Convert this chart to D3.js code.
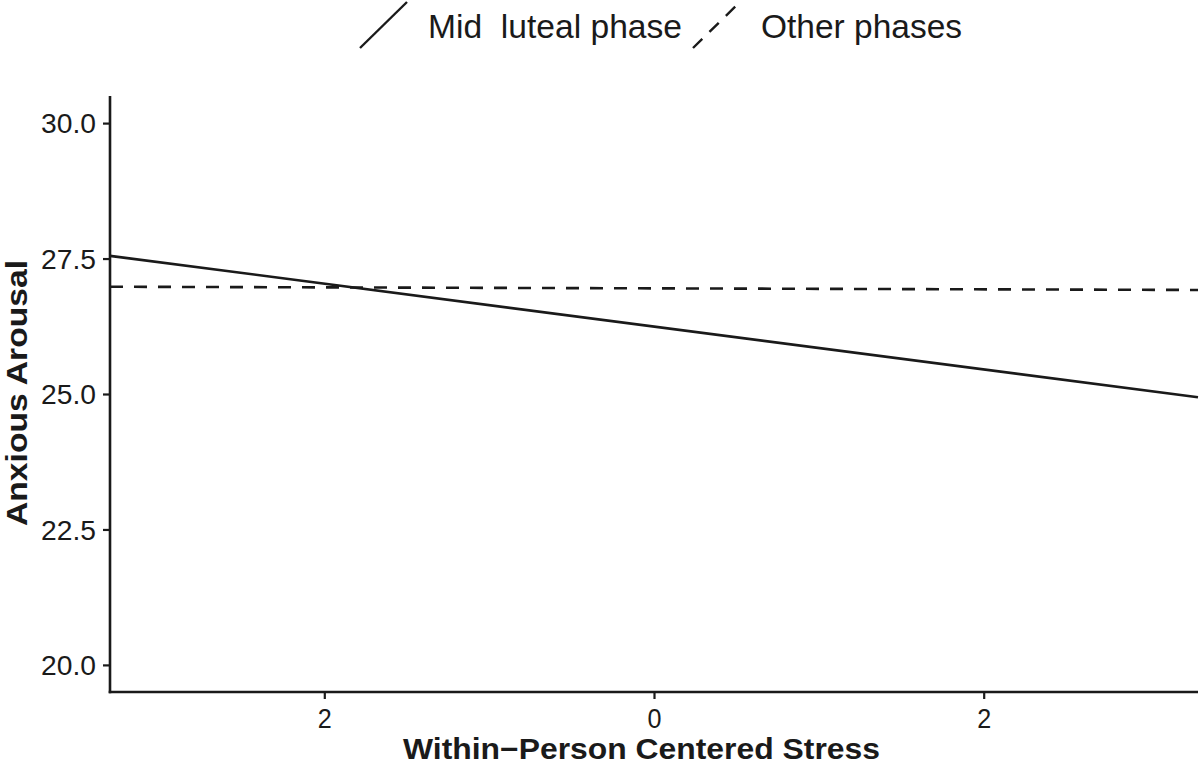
<!DOCTYPE html>
<html>
<head>
<meta charset="utf-8">
<script src="https://cdn.jsdelivr.net/npm/d3@7"></script>
<style>
  html, body { margin: 0; padding: 0; background: #fff; }
  svg { display: block; }
  text { font-family: "Liberation Sans", Arial, Helvetica, sans-serif; fill: #1a1a1a; }
</style>
</head>
<body>
<svg id="chart" width="1200" height="767"></svg>
<script>
// ---- data ----
const xDomain = [-3.3, 3.3];
const yDomain = [19.5, 30.5];
const xTickValues = [-2, 0, 2];
const xTickLabels = ["2", "0", "2"];
const yTickValues = [20, 22.5, 25, 27.5, 30];
const yTickLabels = ["20.0", "22.5", "25.0", "27.5", "30.0"];
const seriesNames = ["Mid  luteal phase", "Other phases"];
const stressX = [-3.3, 3.3];
const midLuteal = [27.55, 24.94];
const otherPhases = [26.98, 26.92];
const xTitle = "Within\u2212Person Centered Stress";
const yTitle = "Anxious Arousal";

// ---- layout ----
const svg = d3.select("#chart");
const mLeft = 110, mRight = 1198, mTop = 96, mBottom = 692;
const x = d3.scaleLinear().domain(xDomain).range([mLeft, mRight]);
const y = d3.scaleLinear().domain(yDomain).range([mBottom, mTop]);

const ink = "#1a1a1a";

// lines
const lineGen = d3.line().x(d => x(d[0])).y(d => y(d[1]));
const series = [
  { name: seriesNames[0], values: midLuteal, dash: null },
  { name: seriesNames[1], values: otherPhases, dash: "13,11" }
];
series.forEach(s => {
  svg.append("path")
    .datum(stressX.map((v, i) => [v, s.values[i]]))
    .attr("d", lineGen)
    .attr("fill", "none")
    .attr("stroke", ink)
    .attr("stroke-width", 2.6)
    .attr("stroke-dasharray", s.dash);
});

// axes
const yAxis = d3.axisLeft(y).tickValues(yTickValues).tickSize(7).tickSizeOuter(0).tickFormat((d, i) => yTickLabels[i]);
const xAxis = d3.axisBottom(x).tickValues(xTickValues).tickSize(7).tickSizeOuter(0).tickFormat((d, i) => xTickLabels[i]);

const gy = svg.append("g").attr("transform", `translate(${mLeft},0)`).call(yAxis);
const gx = svg.append("g").attr("transform", `translate(0,${mBottom})`).call(xAxis);

[gx, gy].forEach(g => {
  g.select(".domain").attr("stroke", ink).attr("stroke-width", 2.6);
  g.selectAll(".tick line").attr("stroke", ink).attr("stroke-width", 2.2);
});
gy.select(".domain").attr("d", `M0,${mTop}V${mBottom + 1.3}`);
gx.select(".domain").attr("d", `M${mLeft - 1.3},0H${mRight}`);

gy.selectAll(".tick text")
  .attr("x", -14)
  .attr("dy", "0.36em")
  .style("font-size", "27px")
  .attr("fill", ink)
  .attr("textLength", 55)
  .attr("lengthAdjust", "spacingAndGlyphs");

gx.selectAll(".tick text")
  .attr("y", 36)
  .attr("dy", 0)
  .style("font-size", "27px")
  .attr("fill", ink)
  .attr("textLength", 14)
  .attr("lengthAdjust", "spacingAndGlyphs");

// axis titles
svg.append("text")
  .attr("x", 403).attr("y", 759)
  .style("font-size", "29px").style("font-weight", "bold")
  .attr("textLength", 477).attr("lengthAdjust", "spacingAndGlyphs")
  .text(xTitle);

svg.append("text")
  .attr("transform", "translate(27,526) rotate(-90)")
  .style("font-size", "30px").style("font-weight", "bold")
  .attr("textLength", 266).attr("lengthAdjust", "spacingAndGlyphs")
  .text(yTitle);

// legend
const legend = [
  { key: seriesNames[0], dash: null, x0: 360, textX: 428, textW: 254 },
  { key: seriesNames[1], dash: "13,10", x0: 693, textX: 761, textW: 201 }
];
legend.forEach(l => {
  svg.append("line")
    .attr("x1", l.x0).attr("y1", 48)
    .attr("x2", l.x0 + 47).attr("y2", 2)
    .attr("stroke", ink).attr("stroke-width", 2.4)
    .attr("stroke-dasharray", l.dash);
  svg.append("text")
    .attr("x", l.textX).attr("y", 38)
    .style("font-size", "34px")
    .style("white-space", "pre")
    .attr("textLength", l.textW).attr("lengthAdjust", "spacingAndGlyphs")
    .text(l.key);
});
</script>
</body>
</html>
